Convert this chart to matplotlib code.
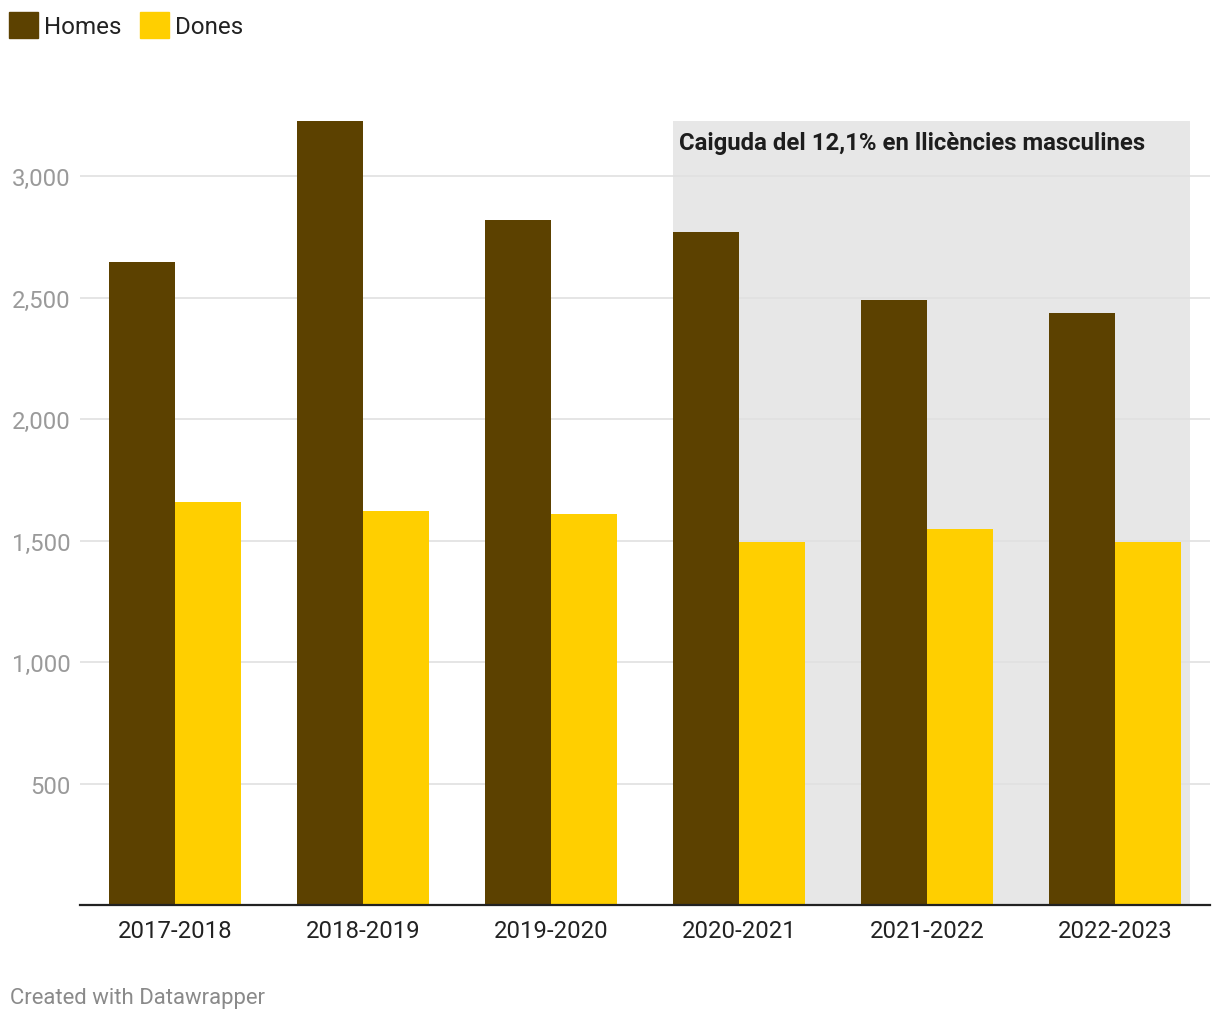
import numpy as np
import matplotlib.pyplot as plt
from matplotlib.patches import Rectangle, Patch

plt.rcParams['font.family'] = ['Roboto', 'DejaVu Sans']

temporades = ['2017-2018', '2018-2019', '2019-2020', '2020-2021', '2021-2022', '2022-2023']
homes = [2646, 3227, 2819, 2769, 2489, 2435]
dones = [1657, 1620, 1611, 1496, 1549, 1496]
yticks = [500, 1000, 1500, 2000, 2500, 3000]
nota = 'Caiguda del 12,1% en llicències masculines'

c_homes = '#5c4100'
c_dones = '#ffcf00'

fig = plt.figure(figsize=(12.2, 10.2), dpi=100)
ax = fig.add_axes([80 / 1220, 1 - 906 / 1020, 1130 / 1220, (906 - 122) / 1020])

x = np.arange(len(temporades))
w = 0.351
ax.bar(x - w / 2, homes, w, color=c_homes, zorder=3)
ax.bar(x + w / 2, dones, w, color=c_dones, zorder=3)

ax.set_xlim(-0.505, len(temporades) - 0.495)
ax.set_ylim(0, max(homes))

# zona ombrejada 2020-2023
ax.add_patch(Rectangle((3 - w, 0), 2.4 + w, max(homes), color='#e7e7e7', zorder=1, lw=0))
ax.text(3 - w + 0.03, max(homes) - 90, nota, fontsize=17.2, fontweight='bold',
        color='#1d1d1d', va='center', ha='left', zorder=4)

ax.set_yticks(yticks)
ax.set_yticklabels([f'{v:,}' for v in yticks])
ax.grid(axis='y', color='#e0e0e0', lw=1.2, zorder=0)
ax.set_xticks(x)
ax.set_xticklabels(temporades)
ax.tick_params(axis='y', length=0, pad=7, labelsize=17.2, labelcolor='#9a9a9a')
ax.tick_params(axis='x', length=0, pad=10, labelsize=17.2, labelcolor='#222222')
for s in ['top', 'right', 'left']:
    ax.spines[s].set_visible(False)
ax.spines['bottom'].set_color('#222222')
ax.spines['bottom'].set_linewidth(1.6)
ax.spines['bottom'].set_zorder(5)

handles = [Patch(color=c_homes, label='Homes'), Patch(color=c_dones, label='Dones')]
fig.legend(handles=handles, loc='upper left', bbox_to_anchor=(9 / 1220, 1 - 13 / 1020), ncol=2,
           frameon=False, borderpad=0, borderaxespad=0,
           fontsize=17.4, handlelength=1.2, handleheight=1.25, handletextpad=0.25, columnspacing=0.75,
           labelcolor='#222222')

fig.text(10 / 1220, 1 - 999 / 1020, 'Created with Datawrapper', fontsize=15.9, color='#8a8a8a',
         va='center', ha='left')

fig.savefig('out.png', dpi=100, facecolor='white')
